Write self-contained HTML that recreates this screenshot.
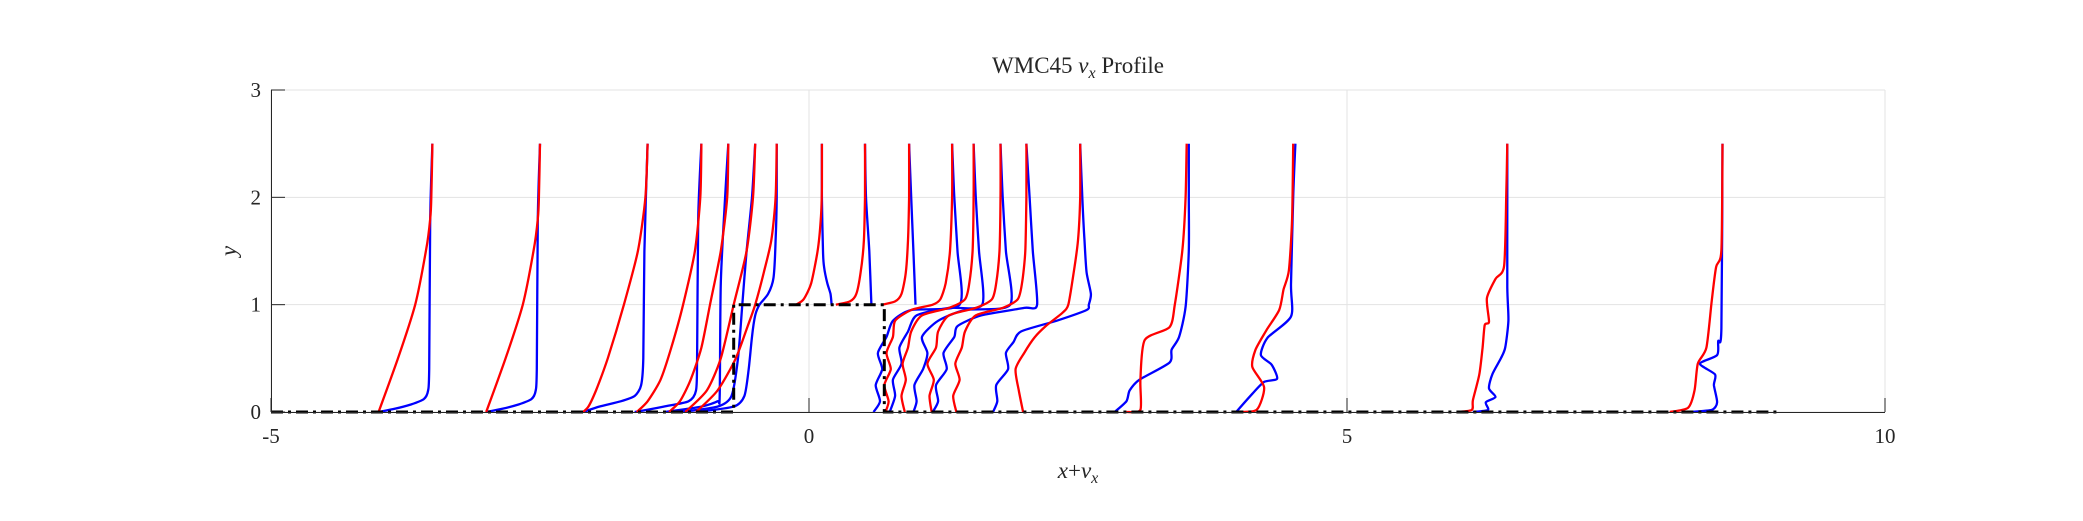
<!DOCTYPE html>
<html><head><meta charset="utf-8"><style>
html,body{margin:0;padding:0;background:#fff;}
svg{display:block;}
text{font-family:"Liberation Serif",serif;fill:#262626;}
</style></head><body>
<svg id="chart" width="2083" height="521" viewBox="0 0 2083 521" xmlns="http://www.w3.org/2000/svg">
<rect width="2083" height="521" fill="#fff"/>
<g id="grid"></g>
<g id="series"></g>
<g id="axes"></g>
<text x="1078" y="73" font-size="23" text-anchor="middle">WMC45 <tspan font-style="italic">v</tspan><tspan font-style="italic" font-size="16" dy="5">x</tspan><tspan dy="-5"> Profile</tspan></text>
<text x="1078" y="478" font-size="23" text-anchor="middle"><tspan font-style="italic">x</tspan>+<tspan font-style="italic">v</tspan><tspan font-style="italic" font-size="16" dy="5">x</tspan></text>
<text x="0" y="0" font-size="23" font-style="italic" text-anchor="middle" transform="translate(236,251) rotate(-90)">y</text>
</svg>
<script>
const xTicks = [-5, 0, 5, 10];
const xTickLabels = ["-5", "0", "5", "10"];
const yTicks = [0, 1, 2, 3];
const yTickLabels = ["0", "1", "2", "3"];
const blockX = [-5, -0.7, -0.7, 0.7, 0.7, 9];
const blockY = [0, 0, 1, 1, 0, 0];
const redY = [
[0,0.5,1,1.5,1.8,2,2.5],
[0,0.5,1,1.5,1.8,2,2.5],
[0,0.05,0.2,0.5,1,1.5,2,2.5],
[0,0.1,0.3,0.6,1,1.5,2,2.5],
[0,0.1,0.3,0.6,1,1.5,2,2.5],
[0,0.2,0.5,1,1.5,2,2.5],
[0,0.2,0.5,0.8,1.0,1.3,1.6,2,2.5],
[1.0,1.05,1.2,1.5,1.8,2.1,2.5],
[1,1.03,1.1,1.3,1.6,2,2.5],
[1,1.03,1.1,1.3,1.6,2,2.5],
[0,0.1,0.25,0.4,0.55,0.7,0.85,0.95,1.0,1.05,1.2,1.5,2,2.5],
[0,0.15,0.3,0.45,0.6,0.75,0.9,0.97,1.05,1.2,1.5,2,2.5],
[0,0.15,0.3,0.45,0.6,0.75,0.9,0.97,1.05,1.2,1.5,2,2.5],
[0,0.15,0.3,0.45,0.6,0.75,0.9,0.97,1.05,1.2,1.5,2,2.5],
[0,0.2,0.4,0.55,0.7,0.8,0.92,1.0,1.3,1.6,2,2.5],
[0,0.02,0.3,0.67,0.79,1.0,1.51,2,2.5],
[0,0.02,0.23,0.42,0.58,0.76,0.95,1.14,1.32,1.8,2.5],
[0,0.02,0.11,0.35,0.6,0.81,0.84,1.06,1.24,1.36,2,2.5],
[0,0.04,0.2,0.45,0.6,1.04,1.35,1.51,2.5]
];
const redX = [
[-4.0,-3.82,-3.66,-3.56,-3.52,-3.51,-3.5],
[-3.0,-2.82,-2.66,-2.56,-2.52,-2.51,-2.5],
[-2.1,-2.05,-1.98,-1.87,-1.72,-1.59,-1.52,-1.5],
[-1.6,-1.5,-1.38,-1.28,-1.17,-1.06,-1.01,-1.0],
[-1.3,-1.2,-1.1,-1.0,-0.92,-0.82,-0.76,-0.75],
[-1.15,-0.95,-0.82,-0.7,-0.58,-0.52,-0.5],
[-1.05,-0.85,-0.68,-0.57,-0.5,-0.42,-0.35,-0.31,-0.3],
[-0.12,-0.05,0.02,0.08,0.11,0.12,0.12],
[0.25,0.38,0.44,0.48,0.51,0.52,0.52],
[0.68,0.8,0.86,0.9,0.92,0.93,0.93],
[0.71,0.74,0.7,0.76,0.72,0.78,0.8,0.95,1.15,1.22,1.27,1.31,1.33,1.33],
[0.89,0.86,0.9,0.87,0.92,0.95,1.05,1.3,1.45,1.49,1.52,1.53,1.53],
[1.14,1.12,1.16,1.1,1.18,1.2,1.3,1.55,1.7,1.74,1.77,1.78,1.78],
[1.37,1.34,1.4,1.36,1.42,1.45,1.55,1.8,1.94,1.98,2.01,2.02,2.02],
[1.99,1.95,1.92,2.0,2.1,2.2,2.35,2.41,2.46,2.5,2.52,2.52],
[2.95,3.08,3.08,3.12,3.35,3.4,3.47,3.5,3.51],
[3.97,4.16,4.23,4.12,4.15,4.25,4.37,4.41,4.46,4.49,4.5],
[6.02,6.16,6.17,6.23,6.26,6.28,6.32,6.3,6.38,6.46,6.48,6.49],
[8.0,8.17,8.23,8.26,8.34,8.39,8.43,8.48,8.49]
];
const blueY = [
[0,0.03,0.07,0.12,0.2,0.4,1.8,2.5],
[0,0.03,0.07,0.12,0.2,0.4,1.8,2.5],
[0,0.05,0.1,0.15,0.25,0.5,1.5,2.5],
[0,0.05,0.1,0.2,0.5,1.8,2.5],
[0,0.05,0.1,0.15,1.2,2,2.5],
[0,0.05,0.15,0.5,1,1.5,2,2.5],
[0,0.05,0.15,0.4,0.7,0.9,1.0,1.1,1.25,1.6,2,2.5],
[1.0,1.1,1.2,1.35,1.5,2,2.5],
[1,1.5,2,2.5],
[1,1.5,2,2.5],
[0,0.1,0.25,0.4,0.55,0.7,0.85,0.95,1.0,1.5,2,2.5],
[0,0.15,0.3,0.45,0.6,0.75,0.9,0.97,1.0,1.5,2,2.5],
[0,0.1,0.25,0.4,0.55,0.7,0.85,0.95,1.0,1.5,2,2.5],
[0,0.1,0.25,0.4,0.55,0.7,0.8,0.9,0.97,1.0,1.5,2,2.5],
[0,0.1,0.25,0.4,0.55,0.65,0.75,0.85,0.95,1.0,1.1,1.3,1.6,2,2.5],
[0,0.1,0.2,0.3,0.46,0.58,0.7,0.98,1.5,2,2.5],
[0,0.17,0.28,0.31,0.44,0.53,0.69,0.89,1.19,2,2.5],
[0,0.02,0.09,0.14,0.22,0.35,0.5,0.6,0.85,1.16,2,2.5],
[0,0.02,0.09,0.25,0.35,0.45,0.53,0.66,0.78,2.5]
];
const blueX = [
[-4.0,-3.85,-3.7,-3.58,-3.54,-3.53,-3.52,-3.5],
[-3.0,-2.85,-2.7,-2.58,-2.54,-2.53,-2.52,-2.5],
[-2.1,-1.95,-1.75,-1.62,-1.56,-1.54,-1.53,-1.5],
[-1.62,-1.35,-1.12,-1.05,-1.04,-1.03,-1.0],
[-1.34,-1.0,-0.85,-0.83,-0.82,-0.78,-0.75],
[-1.2,-0.85,-0.72,-0.66,-0.62,-0.58,-0.53,-0.5],
[-1.05,-0.7,-0.6,-0.56,-0.53,-0.5,-0.46,-0.38,-0.33,-0.31,-0.3,-0.3],
[0.21,0.2,0.17,0.14,0.13,0.12,0.12],
[0.58,0.56,0.53,0.52],
[0.99,0.97,0.95,0.93],
[0.6,0.66,0.62,0.68,0.64,0.72,0.78,0.95,1.4,1.38,1.35,1.33],
[0.75,0.8,0.78,0.86,0.84,0.92,1.0,1.3,1.61,1.58,1.55,1.53],
[0.97,1.0,0.98,1.06,1.1,1.05,1.2,1.45,1.87,1.83,1.8,1.78],
[1.15,1.2,1.18,1.28,1.25,1.35,1.38,1.6,2.0,2.12,2.08,2.05,2.02],
[1.71,1.75,1.74,1.85,1.83,1.9,1.97,2.3,2.58,2.6,2.62,2.58,2.56,2.54,2.52],
[2.84,2.95,2.98,3.07,3.35,3.37,3.44,3.5,3.53,3.53,3.53],
[3.97,4.12,4.23,4.35,4.3,4.2,4.26,4.48,4.48,4.5,4.52],
[6.17,6.31,6.29,6.38,6.32,6.35,6.43,6.47,6.5,6.49,6.49,6.49],
[8.19,8.39,8.44,8.41,8.42,8.28,8.44,8.45,8.48,8.49]
];

const X0 = 271, X1 = 1885, Y0 = 412, Y1 = 90;
const xMin = -5, xMax = 10, yMin = 0, yMax = 3;
function sx(v){ return X0 + (v - xMin) / (xMax - xMin) * (X1 - X0); }
function sy(v){ return Y0 - (v - yMin) / (yMax - yMin) * (Y0 - Y1); }
const NS = "http://www.w3.org/2000/svg";
function mk(tag, attrs, parent){
  const e = document.createElementNS(NS, tag);
  for (const k in attrs) e.setAttribute(k, attrs[k]);
  parent.appendChild(e);
  return e;
}
const grid = document.getElementById('grid');
const axes = document.getElementById('axes');
const series = document.getElementById('series');

xTicks.forEach((t) => {
  const l = mk('line', {x1: sx(t), x2: sx(t), y1: Y0, y2: Y1, stroke: '#e3e3e3', 'stroke-width': 1}, grid);
  
  
});
yTicks.forEach((t) => {
  const l = mk('line', {x1: X0, x2: X1, y1: sy(t), y2: sy(t), stroke: '#e3e3e3', 'stroke-width': 1}, grid);
  
  
});

function pts(xs, ys){ return xs.map((v, i) => sx(v).toFixed(1) + ',' + sy(ys[i]).toFixed(1)).join(' '); }
function smooth(xs, ys){
  const P = xs.map((v, i) => [sx(v), sy(ys[i])]);
  let d = 'M' + P[0][0].toFixed(1) + ',' + P[0][1].toFixed(1);
  const k = 0.12;
  for (let i = 0; i < P.length - 1; i++) {
    const p0 = P[Math.max(0, i - 1)], p1 = P[i], p2 = P[i + 1], p3 = P[Math.min(P.length - 1, i + 2)];
    const c1 = [p1[0] + (p2[0] - p0[0]) * k, p1[1] + (p2[1] - p0[1]) * k];
    const c2 = [p2[0] - (p3[0] - p1[0]) * k, p2[1] - (p3[1] - p1[1]) * k];
    d += ' C' + c1[0].toFixed(1) + ',' + c1[1].toFixed(1) + ' ' + c2[0].toFixed(1) + ',' + c2[1].toFixed(1) + ' ' + p2[0].toFixed(1) + ',' + p2[1].toFixed(1);
  }
  return d;
}

for (let i = 0; i < blueX.length; i++) {
  const p = mk('path', {d: smooth(blueX[i], blueY[i]), fill: 'none', stroke: '#0000ff', 'stroke-width': 2.3, 'stroke-linejoin': 'round'}, series);
  
  
}
for (let i = 0; i < redX.length; i++) {
  const p = mk('path', {d: smooth(redX[i], redY[i]), fill: 'none', stroke: '#ff0000', 'stroke-width': 2.3, 'stroke-linejoin': 'round'}, series);
  
  
}
const blk = mk('polyline', {points: pts(blockX, blockY), fill: 'none', stroke: '#000', 'stroke-width': 3, 'stroke-dasharray': '12 5 3 5'}, series);



const xa = mk('line', {x1: X0, x2: X1, y1: Y0 + 0.5, y2: Y0 + 0.5, stroke: '#262626', 'stroke-width': 1}, axes);


const ya = mk('line', {x1: X0 + 0.5, x2: X0 + 0.5, y1: Y0, y2: Y1, stroke: '#262626', 'stroke-width': 1}, axes);



xTicks.forEach((t, i) => {
  const tk = mk('line', {x1: sx(t), x2: sx(t), y1: Y0, y2: Y0 - 14, stroke: '#262626', 'stroke-width': 1}, axes);
  
  
  const tx = mk('text', {x: sx(t), y: Y0 + 31, 'font-size': 21, 'text-anchor': 'middle'}, axes);
  tx.textContent = xTickLabels[i];
  
  
});
yTicks.forEach((t, i) => {
  const tk = mk('line', {x1: X0, x2: X0 + 14, y1: sy(t), y2: sy(t), stroke: '#262626', 'stroke-width': 1}, axes);
  
  
  const tx = mk('text', {x: X0 - 10, y: sy(t) + 7, 'font-size': 21, 'text-anchor': 'end'}, axes);
  tx.textContent = yTickLabels[i];
  
  
});
</script>
</body></html>
